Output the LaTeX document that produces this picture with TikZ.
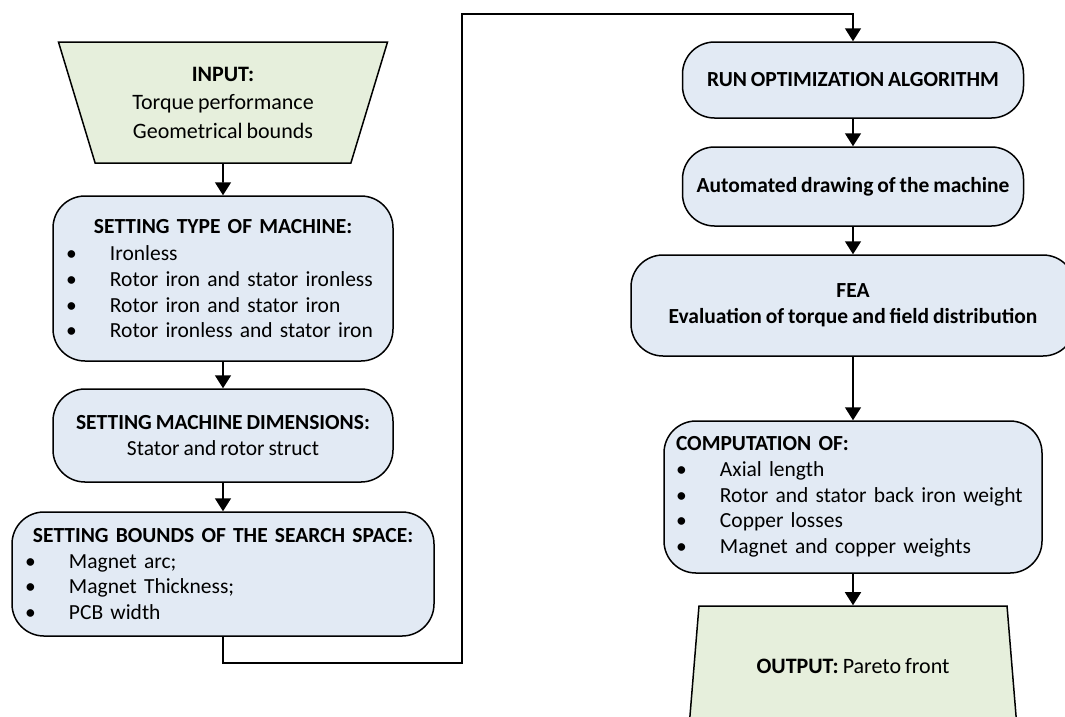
\documentclass[tikz,border=0pt]{standalone}
\usepackage{fontspec}
\setmainfont{Carlito}[WordSpace=0.8]
\usetikzlibrary{shapes.geometric,arrows.meta}

\definecolor{bleuboite}{HTML}{E2EAF4}
\definecolor{vertboite}{HTML}{E6EFDC}
\newcommand{\puce}{\makebox[44pt][l]{\textbullet}}

\tikzset{
  boite/.style={draw, line width=1.5pt, fill=bleuboite, rounded corners=32pt,
    inner sep=0pt, font=\fontsize{21.5}{25.7}\selectfont},
  entree/.style={draw, line width=1.5pt, fill=vertboite, trapezium,
    trapezium stretches=true, inner sep=0pt, align=center,
    font=\fontsize{22}{28.5}\selectfont},
  fleche/.style={line width=1.6pt, -{Triangle[length=13pt,width=16pt]}}
}

\begin{document}
\begin{tikzpicture}[x=1pt, y=-1pt]
  \useasboundingbox (0,0) rectangle (1065,716);

  % Colonne de gauche
  \node[entree, shape border rotate=180, trapezium angle=70,
    minimum width=330, minimum height=121] (input) at (223,102.5)
    {\textbf{INPUT:}\\Torque performance\\Geometrical bounds};
  \node[boite, minimum width=340, minimum height=165, text width=314, align=left]
    (machine) at (223,278.5)
    {\makebox[\linewidth][c]{\textbf{SETTING TYPE OF MACHINE:}}\\[2pt]
     \puce Ironless\\
     \puce Rotor iron and stator ironless\\
     \puce Rotor iron and stator iron\\
     \puce Rotor ironless and stator iron};
  \node[boite, minimum width=340, minimum height=93, align=center]
    (dims) at (223,435.5)
    {\textbf{SETTING MACHINE DIMENSIONS:}\\Stator and rotor struct};
  \node[boite, minimum width=422, minimum height=124, text width=396, align=left]
    (bounds) at (223,574)
    {\makebox[\linewidth][c]{\textbf{SETTING BOUNDS OF THE SEARCH SPACE:}}\\
     \puce Magnet arc;\\
     \puce Magnet Thickness;\\
     \puce PCB width};

  % Colonne de droite
  \node[boite, minimum width=341, minimum height=76, align=center, font=\fontsize{21.5}{25.7}\selectfont\bfseries]
    (run) at (853,80) {RUN OPTIMIZATION ALGORITHM};
  \node[boite, minimum width=341, minimum height=79, align=center, font=\fontsize{21.5}{25.7}\selectfont\bfseries]
    (drawing) at (853,186.5) {Automated drawing of the machine};
  \node[boite, minimum width=444, minimum height=101, align=center, font=\fontsize{21.5}{25.7}\selectfont\bfseries]
    (fea) at (853,305.5) {FEA\\Evaluation of torque and field distribution};
  \node[boite, minimum width=378, minimum height=152, text width=354, align=left]
    (compute) at (853,497)
    {\textbf{COMPUTATION OF:}\\
     \puce Axial length\\
     \puce Rotor and stator back iron weight\\
     \puce Copper losses\\
     \puce Magnet and copper weights};
  \node[entree, trapezium angle=68, minimum width=328, minimum height=120]
    (output) at (853,666) {\textbf{OUTPUT:} Pareto front};

  % Les fleches
  \draw[fleche] (input) -- (machine);
  \draw[fleche] (machine) -- (dims);
  \draw[fleche] (dims) -- (bounds);
  \coordinate (basboucle) at (462,663);
  \coordinate (hautboucle) at (462,14);
  \draw[fleche] (bounds.south) |- (basboucle) -- (hautboucle) -| (run.north);
  \draw[fleche] (run) -- (drawing);
  \draw[fleche] (drawing) -- (fea);
  \draw[fleche] (fea) -- (compute);
  \draw[fleche] (compute) -- (output);
\end{tikzpicture}
\end{document}
